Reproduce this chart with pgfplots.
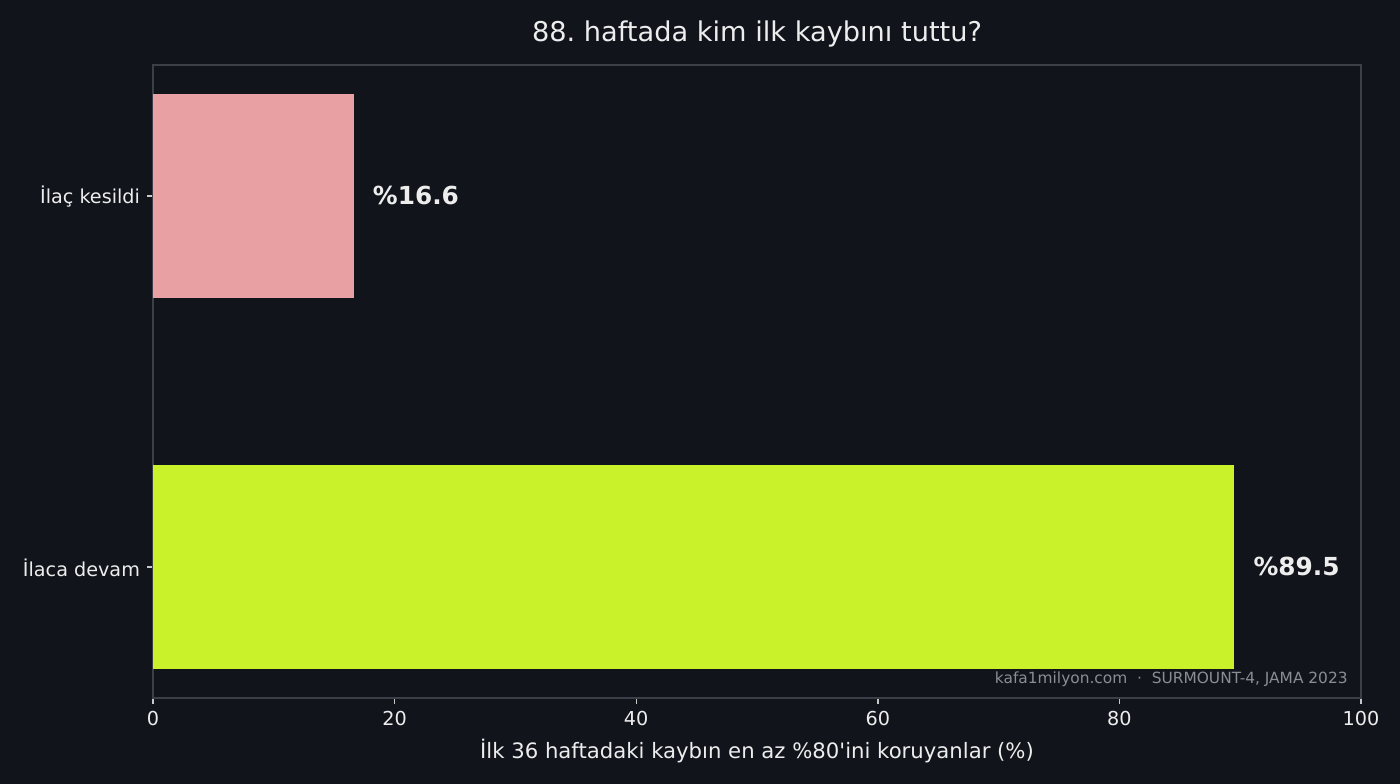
\documentclass[border=0pt]{standalone}
\usepackage{pgfplots}
\pgfplotsset{compat=1.18}
\usepackage{fontspec}
\setmainfont{DejaVu Sans}
\frenchspacing
\definecolor{bg}{HTML}{11141B}
\definecolor{spinecol}{HTML}{3B3F48}
\definecolor{tickcol}{HTML}{C8C8C8}
\definecolor{txt}{HTML}{EDEDED}
\definecolor{wm}{HTML}{8A8D96}
\definecolor{pinkbar}{HTML}{E8A0A2}
\definecolor{limebar}{HTML}{C9F22B}
\begin{document}
\begin{tikzpicture}
\fill[bg] (0,0) rectangle (700bp,392bp);
\begin{axis}[
  at={(76.5bp,43bp)}, anchor=south west, scale only axis,
  width=604bp, height=316.5bp,
  xmin=0, xmax=100, ymin=-0.3525, ymax=1.3525,
  xbar, bar width=0.55, bar shift=0pt,
  ytick={0,1}, yticklabels={İlaca devam, İlaç kesildi},
  xtick={0,20,40,60,80,100},
  xtick pos=bottom, ytick pos=left,
  axis line style={spinecol, line width=0.7bp},
  tick style={tickcol, line width=0.7bp},
  tick align=outside, major tick length=3bp,
  ticklabel style={font=\fontsize{9.6bp}{11bp}\selectfont, text=txt},
  yticklabel style={yshift=-0.6bp},
  /pgf/number format/assume math mode=true,
  nodes near coords={\%\pgfmathprintnumber[fixed,precision=1,fixed zerofill]{\pgfplotspointmeta}},
  point meta=x,
  nodes near coords style={font=\bfseries\fontsize{12.4bp}{14bp}\selectfont, text=txt, anchor=west, inner sep=0pt, xshift=9.5bp, yshift=0.4bp},
  every axis plot/.append style={draw=none},
]
\addplot[fill=limebar] coordinates {(89.5,0)};
\addplot[fill=pinkbar] coordinates {(16.6,1)};
\end{axis}
\node[text=txt, font=\fontsize{13.6bp}{16bp}\selectfont] at (378.5bp,374.8bp) {88. haftada kim ilk kaybını tuttu?};
\node[text=txt, font=\fontsize{10.6bp}{12bp}\selectfont] at (378.5bp,16.3bp) {İlk 36 haftadaki kaybın en az \%80\textquotesingle ini koruyanlar (\%)};
\node[text=wm, font=\fontsize{7.7bp}{9bp}\selectfont, anchor=base east, inner sep=0pt] at (674bp,50bp) {kafa1milyon.com \ · \ SURMOUNT-4, JAMA 2023};
\end{tikzpicture}
\end{document}
